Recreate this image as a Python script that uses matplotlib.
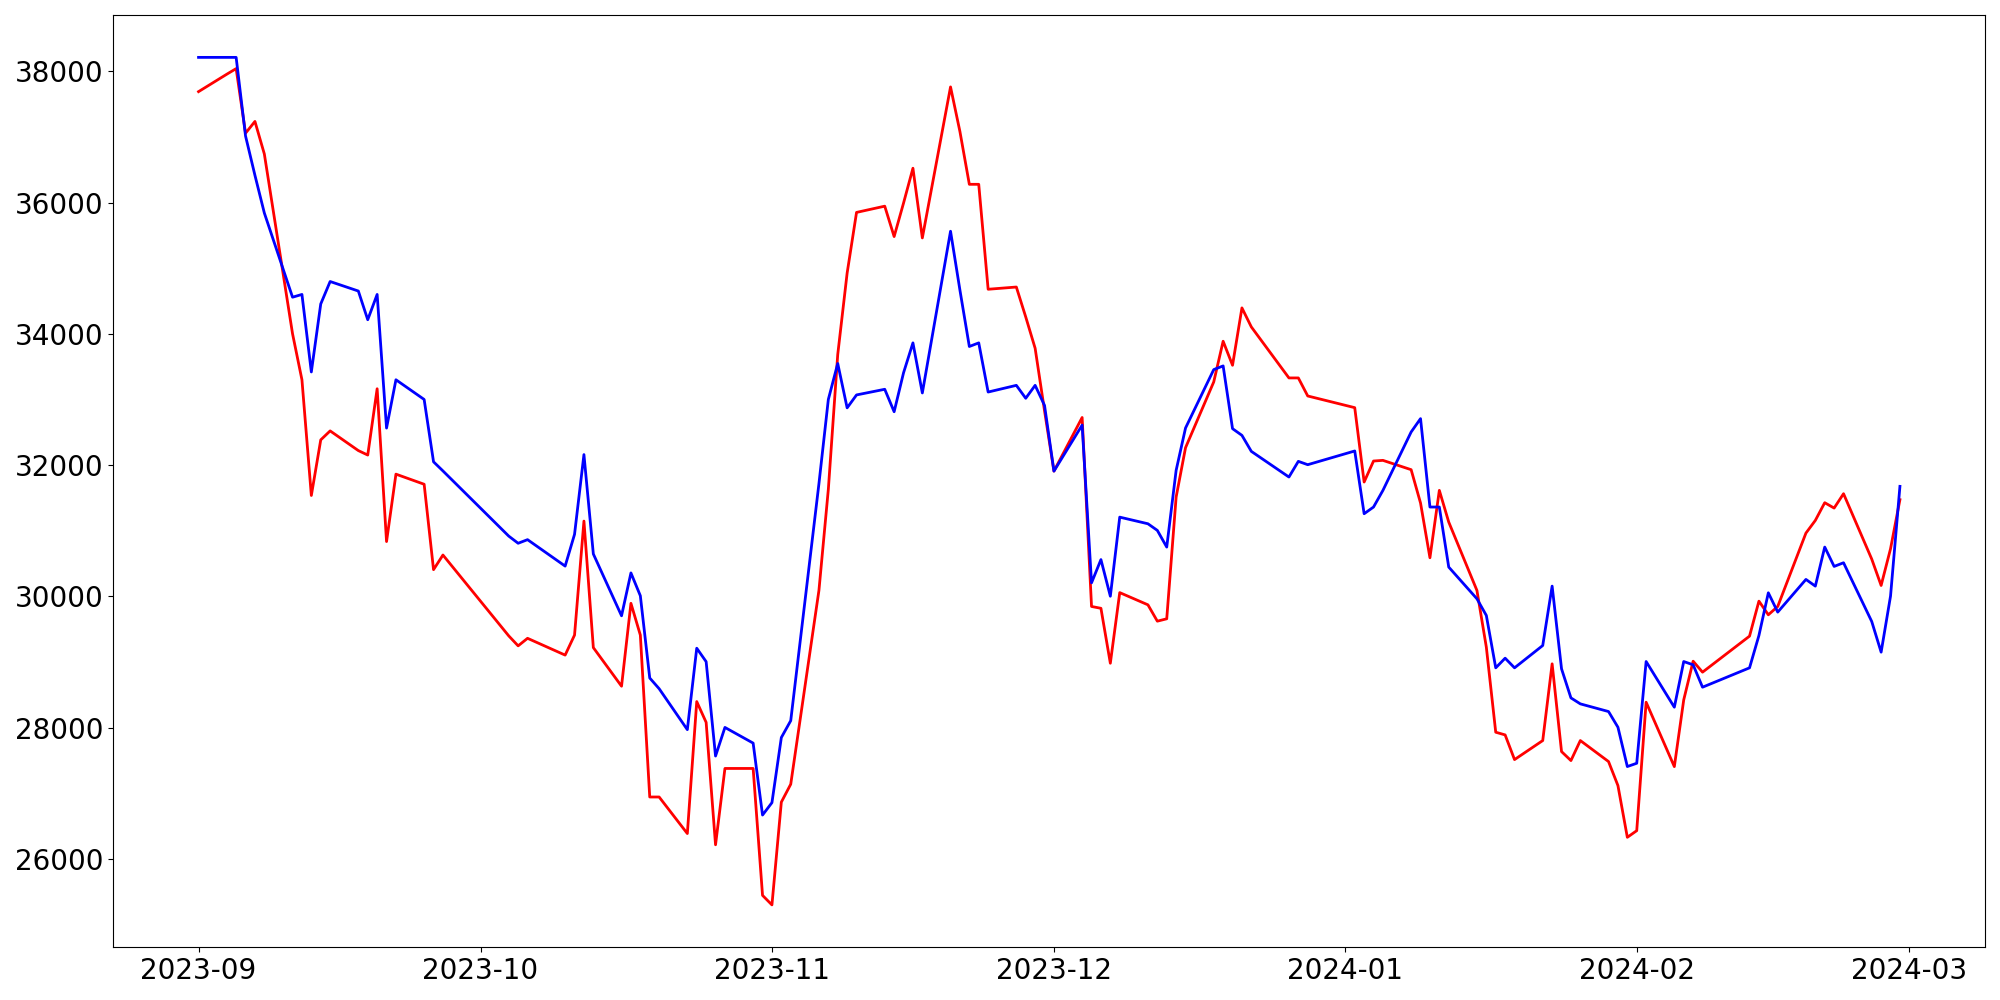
import pandas as pd
import matplotlib
matplotlib.use('Agg')
import matplotlib.pyplot as plt
import matplotlib.dates as mdates

# trading days (Sep 2023 - Feb 2024)
dates = [
    '2023-09-01', '2023-09-04', '2023-09-05', '2023-09-06', '2023-09-07', '2023-09-08',
    '2023-09-11', '2023-09-12', '2023-09-13', '2023-09-14', '2023-09-15', '2023-09-18',
    '2023-09-19', '2023-09-20', '2023-09-21', '2023-09-22', '2023-09-25', '2023-09-26',
    '2023-09-27',
    '2023-10-04', '2023-10-05', '2023-10-06', '2023-10-10', '2023-10-11', '2023-10-12',
    '2023-10-13', '2023-10-16', '2023-10-17', '2023-10-18', '2023-10-19', '2023-10-20',
    '2023-10-23', '2023-10-24', '2023-10-25', '2023-10-26', '2023-10-27', '2023-10-30',
    '2023-10-31',
    '2023-11-01', '2023-11-02', '2023-11-03', '2023-11-06', '2023-11-07', '2023-11-08',
    '2023-11-09', '2023-11-10', '2023-11-13', '2023-11-14', '2023-11-15', '2023-11-16',
    '2023-11-17', '2023-11-20', '2023-11-21', '2023-11-22', '2023-11-23', '2023-11-24',
    '2023-11-27', '2023-11-28', '2023-11-29', '2023-11-30',
    '2023-12-01', '2023-12-04', '2023-12-05', '2023-12-06', '2023-12-07', '2023-12-08',
    '2023-12-11', '2023-12-12', '2023-12-13', '2023-12-14', '2023-12-15', '2023-12-18',
    '2023-12-19', '2023-12-20', '2023-12-21', '2023-12-22', '2023-12-26', '2023-12-27',
    '2023-12-28',
    '2024-01-02', '2024-01-03', '2024-01-04', '2024-01-05', '2024-01-08', '2024-01-09',
    '2024-01-10', '2024-01-11', '2024-01-12', '2024-01-15', '2024-01-16', '2024-01-17',
    '2024-01-18', '2024-01-19', '2024-01-22', '2024-01-23', '2024-01-24', '2024-01-25',
    '2024-01-26', '2024-01-29', '2024-01-30', '2024-01-31',
    '2024-02-01', '2024-02-02', '2024-02-05', '2024-02-06', '2024-02-07', '2024-02-08',
    '2024-02-13', '2024-02-14', '2024-02-15', '2024-02-16', '2024-02-19', '2024-02-20',
    '2024-02-21', '2024-02-22', '2024-02-23', '2024-02-26', '2024-02-27', '2024-02-28',
    '2024-02-29',
]

# blue series
blue_values = [
    38214, 38214, 38214, 37016, 36417, 35843, 34560, 34602, 33421, 34457, 34799, 34654,
    34217, 34602, 32566, 33302, 33002, 32052, 31913,
    30920, 30811, 30866, 30463, 30947, 32162, 30648, 29706, 30359, 30011, 28758, 28595,
    27971, 29212, 29007, 27569, 28005, 27766, 26670,
    26859, 27851, 28108, 31719, 33002, 33550, 32874, 33071, 33157, 32815, 33408, 33864,
    33101, 35565, 34667, 33809, 33864, 33115, 33217, 33020, 33217, 32911,
    31910, 32611, 30208, 30562, 30004, 31209, 31108, 31007, 30753, 31922, 32567, 33457,
    33513, 32557, 32455, 32211, 31820, 32059, 32008,
    32217, 31261, 31363, 31617, 32506, 32710, 31363, 31363, 30448, 29965, 29711, 28913,
    29060, 28913, 29253, 30158, 28898, 28455, 28364, 28247, 28008, 27409,
    27459, 29009, 28313, 29009, 28959, 28618, 28913, 29406, 30056, 29762, 30260, 30158,
    30753, 30458, 30514, 29619, 29152, 30006, 31678,
]

# red series
red_values = [
    37692, 37957, 38043, 37059, 37238, 36742, 34003, 33302, 31539, 32386, 32523, 32223,
    32155, 33165, 30837, 31864, 31710, 30409, 30632,
    29400, 29248, 29363, 29107, 29412, 31149, 29221, 28633, 29896, 29412, 26945, 26945,
    26388, 28399, 28082, 26217, 27380, 27380, 25446,
    25301, 26867, 27140, 30093, 31633, 33687, 34928, 35852, 35947, 35484, 35994, 36525,
    35463, 37764, 37083, 36280, 36280, 34681, 34715, 34259, 33782, 32829,
    31910, 32727, 29848, 29820, 28983, 30059, 29873, 29624, 29660, 31515, 32267, 33269,
    33889, 33523, 34397, 34107, 33330, 33330, 33055,
    32877, 31744, 32064, 32074, 31932, 31424, 30590, 31617, 31134, 30092, 29228, 27932,
    27891, 27515, 27805, 28974, 27637, 27500, 27805, 27485, 27119, 26331,
    26432, 28389, 27408, 28425, 29014, 28847, 29396, 29929, 29721, 29848, 30966, 31159,
    31429, 31347, 31566, 30570, 30168, 30727, 31475,
]


def main():
    x = pd.to_datetime(dates)

    fig, ax = plt.subplots(figsize=(20, 10), dpi=100)
    ax.plot(x, red_values, color='red', linewidth=2)
    ax.plot(x, blue_values, color='blue', linewidth=2)

    ax.xaxis.set_major_locator(mdates.MonthLocator())
    ax.xaxis.set_major_formatter(mdates.DateFormatter('%Y-%m'))
    ax.tick_params(axis='both', labelsize=20)

    plt.tight_layout()
    plt.savefig('out.png', dpi=100)
    plt.close()


if __name__ == '__main__':
    main()
